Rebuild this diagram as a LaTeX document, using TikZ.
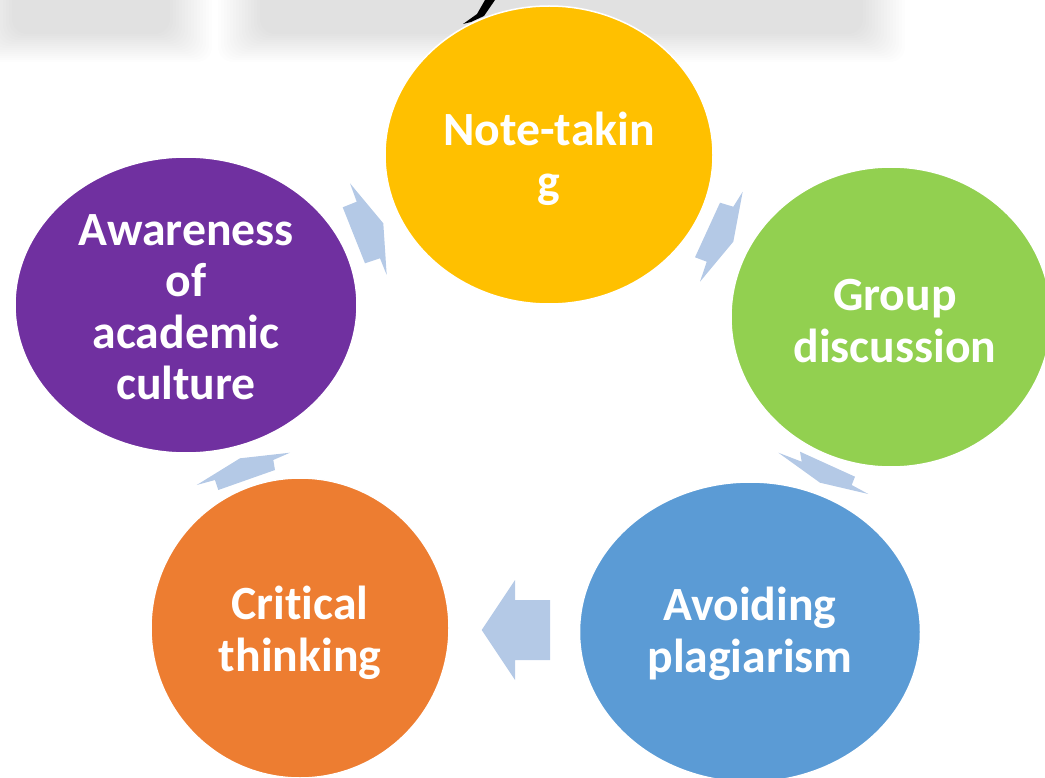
\documentclass[tikz,border=0pt]{standalone}
\usepackage{fontspec}
\setmainfont[RawFeature={-liga}]{Carlito}
\usetikzlibrary{shapes.geometric}

\definecolor{notecol}{HTML}{FFC000}
\definecolor{groupcol}{HTML}{92D050}
\definecolor{avoidcol}{HTML}{5B9BD5}
\definecolor{critcol}{HTML}{ED7D31}
\definecolor{awarecol}{HTML}{7030A0}
\definecolor{flowcol}{HTML}{B4C9E6}

\begin{document}
\begin{tikzpicture}[x=1pt, y=-1pt,
  topic/.style={ellipse, draw=white, line width=1.5pt, inner sep=0pt},
  topictext/.style={text=white, align=center,
    font=\fontsize{47.7}{51.5}\selectfont\bfseries},
  flow/.style={fill=flowcol, draw=none}]
  \useasboundingbox (0,0) rectangle (1045,778);
  \clip (0,0) rectangle (1045,778);

  % Blurred title strip (behind everything)
  \foreach \k in {0,...,14} {
    \fill[black, opacity=0.009, rounded corners=15]
      (-30+\k*3,-30) rectangle (212-\k*3,62-\k*2);
    \fill[black, opacity=0.009, rounded corners=15]
      (218+\k*3,-30) rectangle (905-\k*3,62-\k*2);
  }
  \fill[black] (485,0) -- (495,0) -- (484,16) -- (471,22) -- (463,24) -- (477,14) -- cycle;

  % Level 1: Note-taking (top)
  \node[topic, fill=notecol, minimum width=328, minimum height=298] (note) at (549,155) {};
  \node[topictext] (notetxt) at ([yshift=-4pt]note.center) {Note-takin\\g};
  % Level 2: Group discussion (right)
  \node[topic, fill=groupcol, minimum width=320, minimum height=300] (group) at (891,317) {};
  \node[topictext] (grouptxt) at ([xshift=4pt,yshift=-4pt]group.center) {Group\\discussion};
  % Level 3: Avoiding plagiarism (bottom right)
  \node[topic, fill=avoidcol, minimum width=341, minimum height=300] (avoid) at (750,632) {};
  \node[topictext] (avoidtxt) at ([yshift=-2pt]avoid.center) {Avoiding\\plagiarism};
  % Level 4: Critical thinking (bottom left)
  \node[topic, fill=critcol, minimum width=298, minimum height=300] (crit) at (300,628) {};
  \node[topictext] (crittxt) at ([yshift=-5pt]crit.center) {Critical\\thinking};
  % Level 5: Awareness of academic culture (left)
  \node[topic, fill=awarecol, minimum width=342, minimum height=296] (aware) at (186,305) {};
  \node[topictext] (awaretxt) at ([yshift=-2pt]aware.center) {Awareness\\of\\academic\\culture};

  % Block arrows of the cycle
  % note -> group
  \fill[flow] (742.7,191.7) -- (733.3,241.7) -- (700,281.7) -- (706.7,261.7)
    -- (695,257.3) -- (720,202.7) -- (733.3,206.7) -- cycle;
  % group -> avoid
  \fill[flow] (778.3,452.7) -- (801.7,461.7) -- (800,451.7) -- (855,476.7)
    -- (851.7,485) -- (868.3,494) -- (820,482.7) -- cycle;
  % avoid -> crit
  \fill[flow] (481.7,630) -- (515,580) -- (515,600) -- (550,600)
    -- (550,660) -- (515,660) -- (515,680) -- cycle;
  % crit -> aware
  \fill[flow] (196.7,485) -- (240,458.3) -- (290,452.7) -- (273.3,460)
    -- (275,470) -- (218.3,490) -- (215,480) -- cycle;
  % aware -> note
  \fill[flow] (350,183.3) -- (383.3,223.3) -- (386.7,275) -- (380,258.3)
    -- (365,263.3) -- (342.7,207.3) -- (356.7,201.7) -- cycle;
\end{tikzpicture}
\end{document}
